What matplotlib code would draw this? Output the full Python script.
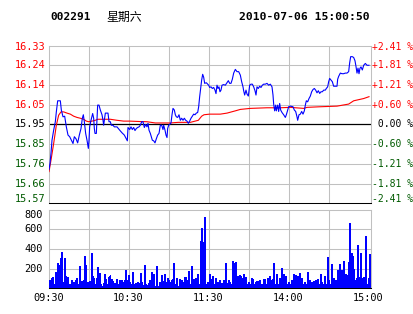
import matplotlib
matplotlib.use("Agg")
import matplotlib.pyplot as plt
import numpy as np
from matplotlib.transforms import blended_transform_factory, offset_copy

# ---------------- data ----------------
stock_code = "002291"
weekday = "星期六"
timestamp = "2010-07-06 15:00:50"
pre_close = 15.95

pct_levels = [2.41, 1.8075, 1.205, 0.6025, 0.0, -0.6025, -1.205, -1.8075, -2.41]
price_labels = ["16.33", "16.24", "16.14", "16.05", "15.95", "15.85", "15.76", "15.66", "15.57"]
pct_labels = ["+2.41 %", "+1.81 %", "+1.21 %", "+0.60 %", " 0.00 %", "-0.60 %", "-1.21 %", "-1.81 %", "-2.41 %"]

time_ticks = [0, 60, 120, 180, 240]
time_labels = ["09:30", "10:30", "11:30", "14:00", "15:00"]

price_minutes = [0, 0.75, 1.5, 2.25, 3.5, 4.75, 5.5, 6.5, 8.5, 9.25, 10.5, 11.75, 13, 14.25, 15.5, 16.75,
                 18, 19, 20.25, 21.5, 22.75, 24, 25, 25.75, 26.5, 27.5, 28.5, 29.5, 30, 30.5, 31.5, 32.75,
                 33.5, 34, 34.5, 35.5, 36, 36.5, 37.5, 38.5, 39.75, 40.5, 41, 41.5, 42.25, 44.25, 45, 46,
                 46.75, 48, 49, 51, 53, 54.75, 56.5, 58, 58.75,
                 59.25, 60.5, 61.5, 62.5, 63.5, 64.5, 65.5, 66.5, 67.5, 68.5, 69.5, 70.5, 71.5, 72.5, 73.5,
                 74.25, 75, 76, 76.75, 77.5, 78.5, 79.5, 80.5, 81.5, 82.5, 83.5, 84.5, 85.5, 86, 87, 87.75,
                 88.5, 89, 89.75, 90.5, 91.5, 92.25, 93, 94, 94.75, 95.5, 96.5, 97.5, 98.5, 99.5, 100.5,
                 101.5, 102.5, 103.5, 104.5, 105.5, 106.5, 107.5, 108.5, 109.5, 110.5, 111.5, 112.25, 113,
                 113.75, 114.5, 115.25, 116, 116.75, 118,
                 119.75, 120.5, 121.5, 122.5, 123.5, 124.5, 125.25, 126, 126.75, 127.5, 128.25, 129, 129.75,
                 131, 132.25, 133.5, 134.5, 135.5, 136.5, 137.5, 138.5, 139.75, 141, 142.25, 143.5, 144.5,
                 145.5, 146, 146.75, 147.75, 148.5, 149.5, 150.5, 151.5, 152.5, 153.5, 154.5, 155.25, 156,
                 157, 158, 159, 160, 161, 162.25, 163.5, 164.75, 166, 167.25, 168, 168.5, 169.25, 170, 170.5,
                 171.5, 172.25, 173, 173.75, 174.75, 176, 177.25, 178,
                 179.75, 181, 183, 184, 185, 186, 186.5, 187.5, 188.5, 189.5, 190.5, 191.5, 192.25, 193, 194,
                 195, 196, 197, 198, 199, 200, 201, 202, 203, 204, 205, 206, 207.25, 208, 209, 209.75, 210.5,
                 211.5, 212.5, 213.5, 214.75, 216, 216.5, 217.25, 218.5, 219.75, 221, 222.25, 223.5, 224.75,
                 225.5, 226.25, 227.5, 228.5, 229.5, 230.25, 231, 231.75, 232.5, 233.25, 234, 235, 236,
                 237.25, 238.5, 240]
price_values = [15.73, 15.76, 15.81, 15.873, 15.922, 15.963, 16.011, 16.065, 16.065, 16.02, 15.987, 15.99,
                15.938, 15.898, 15.89, 15.873, 15.857, 15.89, 15.88, 15.86, 15.898, 15.93, 15.98, 15.997,
                15.963, 15.906, 15.873, 15.833, 15.873, 15.938, 15.97, 16.003, 15.98, 15.93, 15.906, 15.906,
                15.97, 16.044, 16.044, 16.02, 15.997, 15.97, 15.946, 15.97, 16.005, 16.005, 15.963, 15.963,
                15.946, 15.946, 15.938, 15.938, 15.922, 15.909, 15.898, 15.88, 15.87,
                15.935, 15.925, 15.938, 15.925, 15.935, 15.92, 15.93, 15.935, 15.938, 15.946, 15.963, 15.963,
                15.935, 15.95, 15.938, 15.955, 15.922, 15.906, 15.89, 15.873, 15.87, 15.86, 15.88, 15.898,
                15.906, 15.946, 15.946, 15.925, 15.946, 15.922, 15.898, 15.886, 15.93, 15.946, 15.95,
                15.957, 15.997, 16.028, 16.02, 15.997, 15.987, 15.984, 15.997, 15.97, 15.98, 15.97, 15.98,
                15.97, 15.966, 15.955, 15.966, 15.98, 15.99, 16.0, 15.997, 16.005, 16.008, 16.036, 16.085,
                16.125, 16.166, 16.194, 16.18, 16.15, 16.153,
                16.141, 16.13, 16.133, 16.125, 16.13, 16.117, 16.1, 16.141, 16.125, 16.133, 16.109, 16.117,
                16.141, 16.144, 16.141, 16.153, 16.163, 16.15, 16.15, 16.17, 16.2, 16.218, 16.207, 16.207,
                16.19, 16.158, 16.133, 16.114, 16.093, 16.117, 16.098, 16.088, 16.141, 16.146, 16.146,
                16.133, 16.114, 16.093, 16.133, 16.125, 16.136, 16.13, 16.141, 16.146, 16.146, 16.15,
                16.141, 16.146, 16.133, 16.093, 16.049, 16.016, 16.044, 16.016, 16.044, 16.013, 16.052,
                16.02, 16.008, 15.997, 15.984, 15.997,
                16.036, 16.039, 16.036, 16.02, 16.013, 15.987, 15.97, 15.997, 16.0, 16.013, 16.0, 16.016,
                16.044, 16.065, 16.06, 16.076, 16.088, 16.109, 16.12, 16.125, 16.117, 16.104, 16.114,
                16.101, 16.109, 16.109, 16.117, 16.117, 16.125, 16.133, 16.158, 16.174, 16.166, 16.158,
                16.136, 16.136, 16.136, 16.17, 16.184, 16.2, 16.197, 16.197, 16.2, 16.2, 16.207, 16.25,
                16.28, 16.28, 16.276, 16.26, 16.232, 16.2, 16.224, 16.197, 16.224, 16.23, 16.215, 16.238,
                16.247, 16.238, 16.238]

avg_minutes = [0, 1.5, 3.5, 5.5, 7.25, 9, 11, 13.5, 16, 18.5, 21, 23.5, 26, 28, 29.75, 32.25, 34.75, 36.5,
               41, 46, 51, 56, 60.5, 68, 73.5, 79.75, 91, 97, 106, 112, 114.5, 116.25, 120.5, 128.5, 133.5,
               139.75, 143.5, 151, 163.5, 173.5, 181, 191, 193.5, 203.5, 216, 224.75, 228.5, 236, 240]
avg_values = [15.72, 15.776, 15.857, 15.946, 15.995, 16.011, 16.011, 16.005, 16.0, 15.99, 15.984, 15.98,
              15.975, 15.966, 15.963, 15.966, 15.97, 15.975, 15.975, 15.975, 15.97, 15.966, 15.966, 15.964,
              15.963, 15.957, 15.957, 15.96, 15.96, 15.97, 15.99, 15.997, 16.0, 16.0, 16.005, 16.016,
              16.023, 16.028, 16.031, 16.031, 16.033, 16.028, 16.033, 16.036, 16.039, 16.049, 16.065,
              16.076, 16.085]

volume_morning = [75, 95, 108, 34, 163, 153, 254, 227, 305, 366,
                  61, 298, 115, 108, 41, 41, 75, 61, 61, 75,
                  95, 41, 217, 47, 68, 81, 319, 227, 61, 41,
                  68, 349, 115, 95, 34, 95, 207, 146, 34, 20,
                  47, 136, 85, 41, 108, 125, 85, 68, 47, 51,
                  85, 41, 81, 20, 75, 61, 75, 176, 75, 125,
                  54, 34, 156, 41, 47, 41, 61, 47, 146, 61,
                  27, 227, 34, 27, 47, 75, 163, 41, 136, 20,
                  217, 20, 54, 54, 129, 68, 136, 61, 95, 81,
                  61, 75, 85, 254, 34, 95, 20, 85, 61, 75,
                  54, 108, 108, 75, 170, 34, 217, 27, 85, 95,
                  85, 136, 34, 475, 603, 468, 719, 34, 61, 17,
                  136]
volume_afternoon = [85, 115, 41, 95, 61, 61, 75, 51, 51, 75,
                    61, 247, 51, 75, 61, 34, 271, 254, 264, 85,
                    115, 129, 115, 95, 136, 85, 108, 34, 61, 34,
                    95, 85, 34, 61, 68, 68, 75, 34, 34, 85,
                    85, 34, 95, 61, 119, 75, 85, 247, 34, 136,
                    41, 95, 34, 197, 136, 108, 119, 34, 61, 41,
                    75, 34, 136, 129, 108, 119, 146, 47, 95, 34,
                    61, 41, 163, 34, 75, 61, 27, 68, 75, 34,
                    85, 41, 136, 61, 34, 119, 34, 312, 75, 34,
                    237, 41, 95, 75, 61, 176, 237, 176, 176, 271,
                    47, 136, 125, 264, 661, 356, 322, 186, 75, 95,
                    434, 108, 353, 95, 108, 95, 525, 41, 100, 339]
volume_ticks = [200, 400, 600, 800]

# ---------------- style ----------------
RED = "#ff0000"
GREEN = "#005a00"
BLUE = "#0000ff"
GRID = "#c0c0c0"
MONO = "DejaVu Sans Mono"

W, H = 414, 314
fig = plt.figure(figsize=(W / 100, H / 100), dpi=100)
fig.patch.set_facecolor("white")


def box(l, t, r, b):
    return [l / W, 1 - b / H, (r - l) / W, (b - t) / H]


ax = fig.add_axes(box(49, 45.5, 371, 203.3))
axv = fig.add_axes(box(49, 209.5, 371, 288.3))

xmax = 241.5
for a in (ax, axv):
    a.set_xlim(0, xmax)
    a.set_xticks([])
    a.set_yticks([])
    for s in a.spines.values():
        s.set_color(GRID)
        s.set_linewidth(0.75)
    a.spines["bottom"].set_color("black")
    for t in range(30, 240, 30):
        a.axvline(t, color=GRID, lw=0.75, zorder=1)

# price panel
lo = pre_close * (1 + pct_levels[-1] / 100)
hi = pre_close * (1 + pct_levels[0] / 100)
ax.set_ylim(lo, hi)
levels = [pre_close * (1 + p / 100) for p in pct_levels]
for lv, p in zip(levels[1:-1], pct_levels[1:-1]):
    ax.axhline(lv, color="black" if p == 0 else GRID, lw=0.75 if p != 0 else 0.9,
               zorder=1 if p != 0 else 2)

ax.plot(price_minutes, price_values, color=BLUE, lw=0.8, zorder=4)
ax.plot(avg_minutes, avg_values, color=RED, lw=0.8, zorder=3)

tl = offset_copy(blended_transform_factory(ax.transAxes, ax.transData), fig=fig, x=-4, y=0, units="dots")
tr = offset_copy(blended_transform_factory(ax.transAxes, ax.transData), fig=fig, x=1.5, y=0, units="dots")
n = len(levels)
for i, (lv, pl, pc, p) in enumerate(zip(levels, price_labels, pct_labels, pct_levels)):
    col = RED if p > 0 else ("black" if p == 0 else GREEN)
    dy = 0
    if i == 0:
        dy = -1.5 * 0.00488
    if i == n - 1:
        dy = 4 * 0.00488
    ax.text(0, lv + dy, pl, transform=tl, ha="right", va="center", fontsize=7.4,
            family=MONO, color=col)
    ax.text(1, lv + dy, pc, transform=tr, ha="left", va="center", fontsize=7.0,
            family=MONO, color=col)

# volume panel
axv.set_ylim(0, 800)
for v in volume_ticks[:-1]:
    axv.axhline(v, color=GRID, lw=0.75, zorder=1)
volumes = volume_morning + volume_afternoon
vx = np.arange(len(volumes)) + 0.5
axv.bar(vx, volumes, width=0.95, align="edge", color=BLUE, edgecolor="none", linewidth=0,
        zorder=3, antialiased=False, snap=False)

tlv = offset_copy(blended_transform_factory(axv.transAxes, axv.transData), fig=fig, x=-6.5, y=0, units="dots")
for v in volume_ticks:
    axv.text(0, v, str(v), transform=tlv, ha="right", va="top" if v == 800 else "center",
             fontsize=7.4, family=MONO, color="black")

tb = offset_copy(blended_transform_factory(axv.transData, axv.transAxes), fig=fig, x=0, y=-10, units="dots")
for t, lab in zip(time_ticks, time_labels):
    axv.text(t - 0.5, 0, lab, transform=tb, ha="center", va="center", fontsize=7.4,
             family=MONO, color="black")

# header
fig.text(50 / W, 1 - 17 / H, stock_code, ha="left", va="center", fontsize=8,
         family=MONO, weight="bold", color="black")
fig.text(106 / W, 1 - 17 / H, weekday, ha="left", va="center", fontsize=8.6,
         family=["Noto Sans CJK SC", "DejaVu Sans"], color="black")
fig.text(370 / W, 1 - 17 / H, timestamp, ha="right", va="center", fontsize=8.2,
         family=MONO, weight="bold", color="black")

fig.savefig("out.png", dpi=100)
